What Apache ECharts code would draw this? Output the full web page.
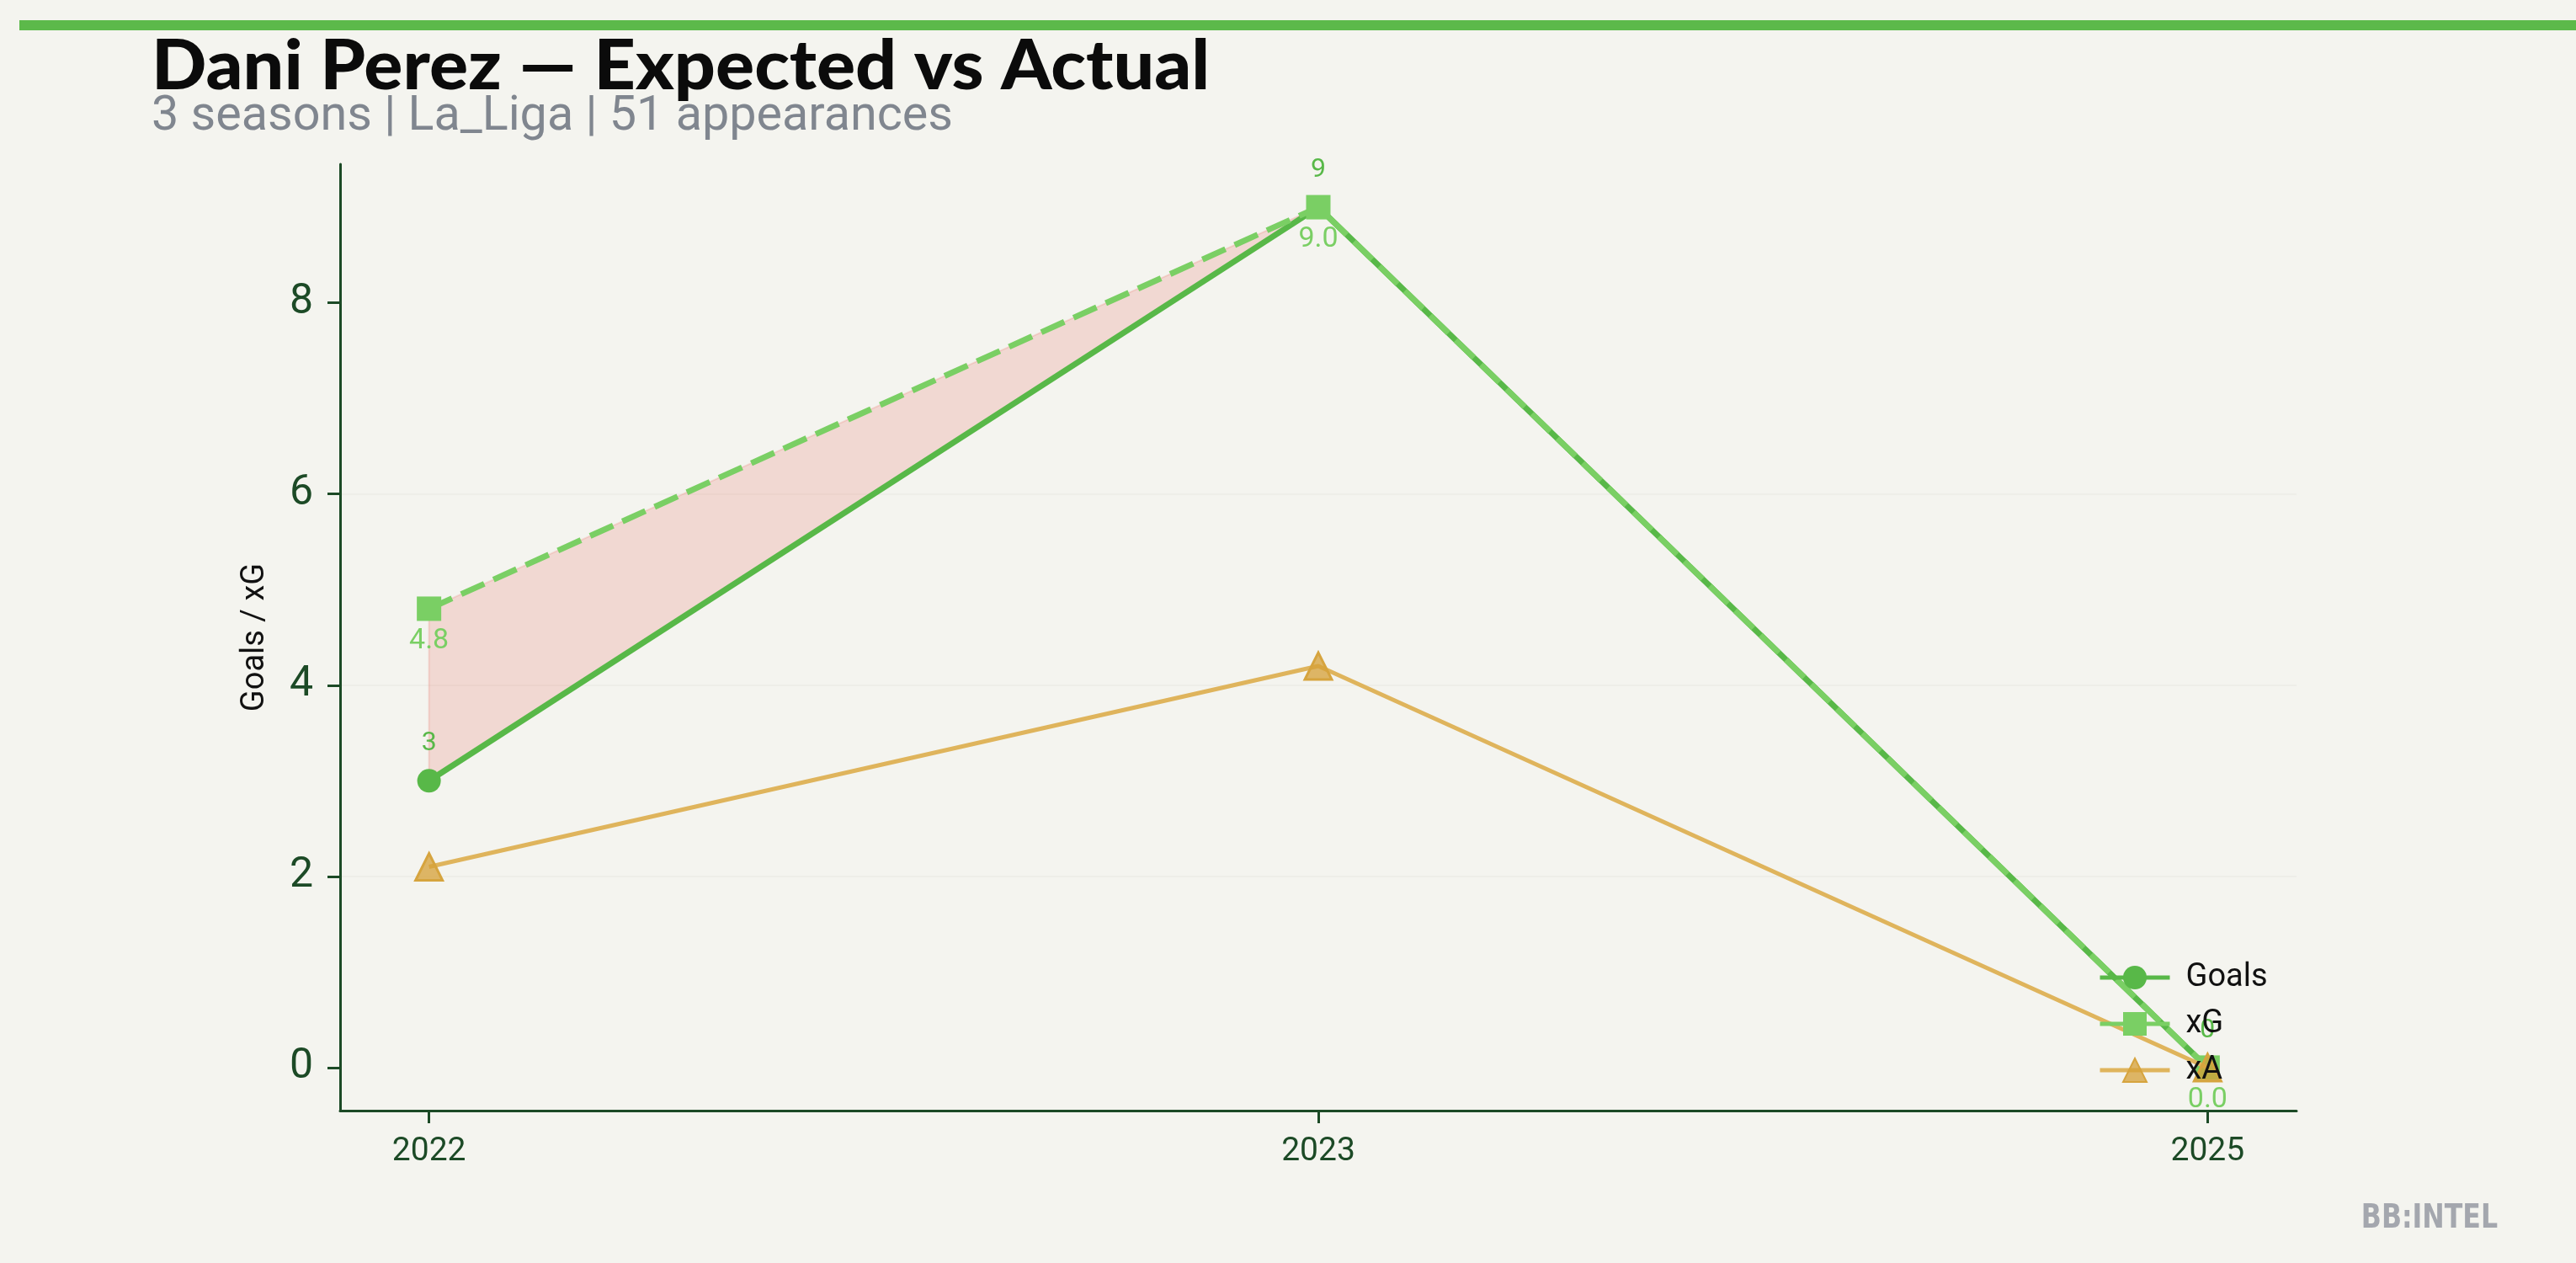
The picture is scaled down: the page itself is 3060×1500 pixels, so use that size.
<!DOCTYPE html>
<html><head><meta charset="utf-8">
<script src="https://cdn.jsdelivr.net/npm/echarts@6/dist/echarts.min.js"></script>
<style>html,body{margin:0;padding:0;background:#f4f4ef;} #c{width:3060px;height:1500px;}</style>
</head><body><div id="c"></div>
<script>
// ---- data ----
const seasons = ['2022', '2023', '2025'];
const goals = [3, 9, 0];
const xg = [4.8, 9.0, 0.0];
const xa = [2.1, 4.2, 0.0];
const yTicks = [0, 2, 4, 6, 8];
const xTicks = [0, 1, 2];

const titleText = 'Dani Perez — Expected vs Actual';
const subtitleText = '3 seasons | La_Liga | 51 appearances';

// ---- styles ----
const C_GOALS = '#58b848';
const C_XG = '#7acf64';
const C_XA = '#dfb45c';
const C_AXIS = '#1c4a26';
const BG = '#f4f4ef';
const FILL = 'rgba(231,76,60,0.16)';

const pts = arr => arr.map((v, i) => [i, v]);

const chart = echarts.init(document.getElementById('c'), null, {renderer: 'canvas'});
chart.setOption({
  backgroundColor: BG,
  animation: false,
  grid: {left: 404, right: 332, top: 195, bottom: 181, containLabel: false},
  graphic: [
    {type: 'rect', shape: {x: 23, y: 24, width: 3037, height: 12}, style: {fill: '#5cb94a'}},
    {type: 'text', x: 180, y: 80, scaleX: 1.05, style: {text: titleText, fontSize: 82, fontWeight: 900, fontFamily: 'Lato', fill: '#0b0b0b', align: 'left', verticalAlign: 'middle'}},
    {type: 'text', x: 180, y: 140, style: {text: subtitleText, fontSize: 57.5, fontFamily: 'Roboto', fill: '#80868f', align: 'left', verticalAlign: 'middle'}},
    {type: 'text', x: 2967, y: 1448, scaleX: 0.9, originX: 0, style: {text: 'BB:INTEL', fontSize: 39, fontWeight: 'bold', fontFamily: '"Liberation Sans Narrow", "DejaVu Sans Condensed", sans-serif', fill: '#a4a7ae', align: 'right', verticalAlign: 'middle'}}
  ],
  legend: {
    data: ['Goals', 'xG', 'xA'],
    orient: 'vertical',
    left: 2487, top: 1137, z: 20,
    itemWidth: 83, itemHeight: 35, itemGap: 17,
    lineStyle: {width: 5, type: 'solid'},
    textStyle: {fontSize: 38, fontFamily: 'Roboto', color: '#111', lineHeight: 28, padding: [0, 0, 0, 14]},
    backgroundColor: 'transparent'
  },
  xAxis: {
    type: 'value', min: -0.1, max: 2.1,
    axisLine: {show: true, onZero: false, lineStyle: {color: C_AXIS, width: 3}},
    axisTick: {show: true, customValues: xTicks, length: 15, lineStyle: {color: C_AXIS, width: 3}},
    axisLabel: {customValues: xTicks, formatter: v => seasons[Math.round(v)], fontSize: 39, fontFamily: 'Roboto', color: C_AXIS, margin: 30},
    splitLine: {show: false}
  },
  yAxis: {
    type: 'value', min: -0.45, max: 9.45,
    name: 'Goals / xG', nameLocation: 'middle', nameGap: 82, nameRotate: 90,
    nameTextStyle: {fontSize: 38, fontFamily: 'Roboto', color: '#111'},
    axisLine: {show: true, onZero: false, lineStyle: {color: C_AXIS, width: 3}},
    axisTick: {show: true, customValues: yTicks, length: 15, lineStyle: {color: C_AXIS, width: 3}},
    axisLabel: {customValues: yTicks, fontSize: 50, fontFamily: 'Roboto', color: C_AXIS, margin: 32},
    splitLine: {show: true, showMinLine: false, showMaxLine: false, lineStyle: {color: '#eeeee8', width: 2}}
  },
  series: [
    {name: 'gapFill', type: 'custom', silent: true, z: 1, data: [[0, 0]],
      renderItem: (params, api) => {
        const upper = xg.map((v, i) => api.coord([i, v]));
        const lower = goals.map((v, i) => api.coord([i, v])).reverse();
        return {type: 'polygon', shape: {points: upper.concat(lower)},
          style: {fill: FILL, stroke: FILL, lineWidth: 2}};
      }},
    {name: 'Goals', type: 'line', data: pts(goals), symbol: 'circle', symbolSize: 28, z: 3,
      lineStyle: {color: C_GOALS, width: 7}, itemStyle: {color: C_GOALS},
      label: {show: true, position: 'top', distance: 14, fontSize: 32, fontFamily: 'Roboto', color: C_GOALS,
        formatter: p => String(p.value[1])}},
    {name: 'xG', type: 'line', data: pts(xg), symbol: 'rect', symbolSize: 29, z: 4,
      lineStyle: {color: C_XG, width: 7, type: [30, 12]}, itemStyle: {color: C_XG},
      label: {show: true, position: 'bottom', distance: 7, fontSize: 34, fontFamily: 'Roboto', color: C_XG,
        formatter: p => p.value[1].toFixed(1)}},
    {name: 'xA', type: 'line', data: pts(xa), symbol: 'triangle', symbolSize: 32, z: 5,
      lineStyle: {color: C_XA, width: 5}, itemStyle: {color: 'rgba(214,160,55,0.75)', borderColor: '#d6a43e', borderWidth: 3}}
  ]
});
</script></body></html>
